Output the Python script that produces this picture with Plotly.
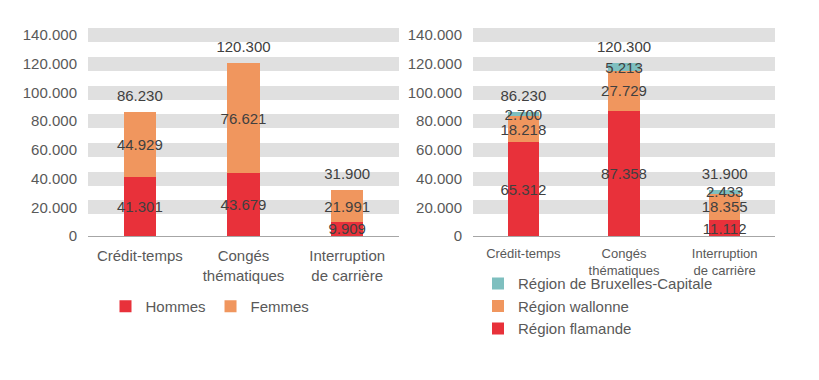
import plotly.graph_objects as go

categories = ["Crédit-temps", "Congés<br>thématiques", "Interruption<br>de carrière"]
hommes = [41301, 43679, 9909]
femmes = [44929, 76621, 21991]
totaux = [86230, 120300, 31900]
flamande = [65312, 87358, 11112]
wallonne = [18218, 27729, 18355]
bruxelles = [2700, 5213, 2433]
ytick_vals = [0, 20000, 40000, 60000, 80000, 100000, 120000, 140000]

RED = "#E8313A"
ORANGE = "#F0965E"
TEAL = "#7EBFBF"
LABEL = "#404040"
TICK = "#595959"
FONT = "Liberation Sans, Arial, sans-serif"

fig = go.Figure()

def seg(name, vals, color, xa, ya, legend, show=True):
    return go.Bar(
        x=categories, y=vals, name=name, marker=dict(color=color, line=dict(width=0)),
        xaxis=xa, yaxis=ya, legend=legend, showlegend=show,
        text=vals, texttemplate="%{y:,.0f}", textposition="inside",
        insidetextanchor="middle", textangle=0, constraintext="none",
        textfont=dict(color=LABEL, size=15, family=FONT), width=0.31,
    )

def totals(xa, ya):
    return go.Scatter(x=categories, y=totaux, mode="markers+text", text=totaux,
                      texttemplate="%{y:,.0f}", textposition="top center",
                      marker=dict(size=11, opacity=0),
                      textfont=dict(color=LABEL, size=15, family=FONT),
                      xaxis=xa, yaxis=ya, showlegend=False, hoverinfo="skip")

fig.add_trace(seg("Hommes", hommes, RED, "x", "y", "legend"))
fig.add_trace(seg("Femmes", femmes, ORANGE, "x", "y", "legend"))
fig.add_trace(totals("x", "y"))

fig.add_trace(seg("Région flamande", flamande, RED, "x2", "y2", "legend2"))
fig.add_trace(seg("Région wallonne", wallonne, ORANGE, "x2", "y2", "legend2"))
fig.add_trace(seg("Région de Bruxelles-Capitale", bruxelles, TEAL, "x2", "y2", "legend2"))
fig.add_trace(totals("x2", "y2"))

yax = dict(range=[0, 145000], tickvals=ytick_vals, tickformat=",d", showgrid=True,
           gridcolor="#E0E0E0", gridwidth=14, zeroline=True, zerolinecolor="#A6A6A6",
           zerolinewidth=1, ticks="", ticklabelstandoff=10, automargin=False,
           tickfont=dict(size=15, color=TICK, family=FONT), fixedrange=True)
xax = dict(showline=False, ticks="", showgrid=False, fixedrange=True, automargin=False)

fig.update_layout(
    width=819, height=380, barmode="stack", separators=",.",
    paper_bgcolor="white", plot_bgcolor="white",
    margin=dict(l=0, r=0, t=28, b=144, autoexpand=False),
    font=dict(family=FONT, color=TICK, size=15),
    xaxis=dict(domain=[88/819, 399/819], anchor="y", ticklabelstandoff=9,
               tickfont=dict(size=15, color=TICK, family=FONT), **xax),
    yaxis=dict(anchor="x", **yax),
    xaxis2=dict(domain=[473/819, 775/819], anchor="y2", ticklabelstandoff=8,
                tickfont=dict(size=13, color=TICK, family=FONT), **xax),
    yaxis2=dict(anchor="x2", **yax),
    legend=dict(orientation="h", x=210/819, xanchor="center", y=-0.26, yanchor="top",
                traceorder="normal",
                font=dict(size=15, color=TICK, family=FONT), itemwidth=30,
                bgcolor="rgba(0,0,0,0)"),
    legend2=dict(orientation="v", x=478/819, xanchor="left", y=-0.15, yanchor="top",
                 traceorder="reversed", tracegroupgap=0,
                 font=dict(size=15, color=TICK, family=FONT), itemwidth=30,
                 bgcolor="rgba(0,0,0,0)"),
    showlegend=True,
)

fig.write_html("out.html", config={"displayModeBar": False},
               post_script="document.body.style.margin='0';")
